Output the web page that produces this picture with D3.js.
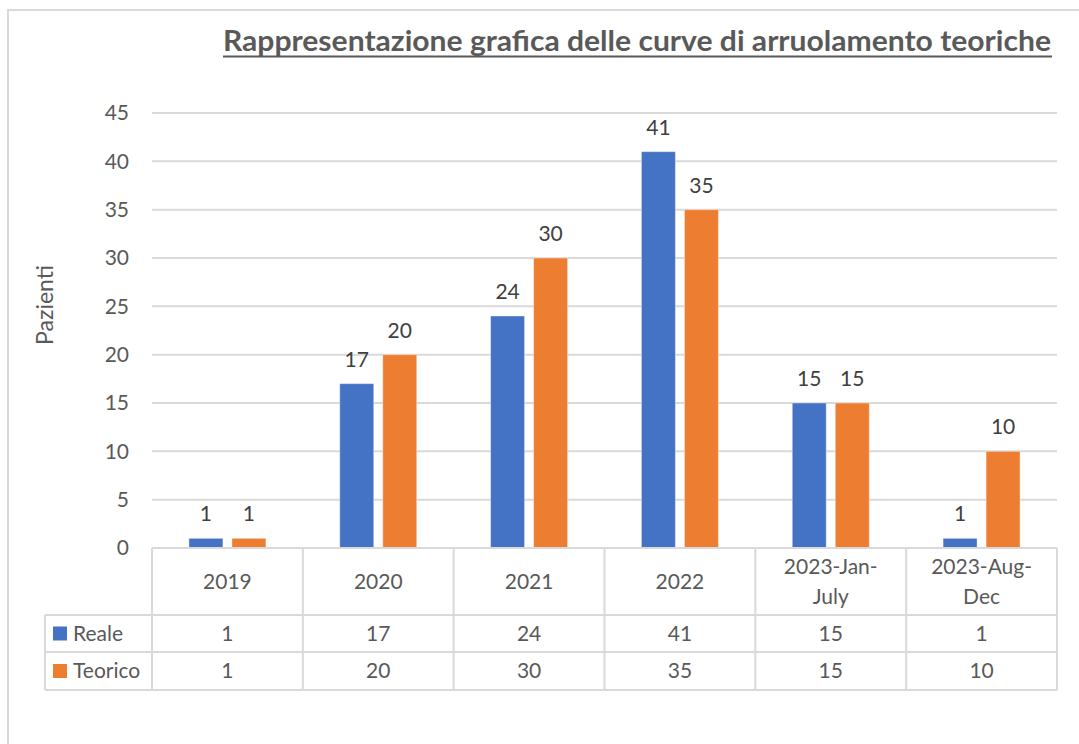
<!DOCTYPE html>
<html lang="it">
<head>
<meta charset="utf-8">
<title>Curve di arruolamento</title>
<script src="https://cdn.jsdelivr.net/npm/d3@7"></script>
<style>
body { margin: 0; background: #fff; }
text { font-family: Lato, "Noto Sans", sans-serif; fill: #595959; }
.grid line, .tbl line { stroke: #d9d9d9; stroke-width: 2px; }
</style>
</head>
<body>
<script>
// data
var categories = ["2019", "2020", "2021", "2022", "2023-Jan-July", "2023-Aug-Dec"];
var catLines = [["2019"], ["2020"], ["2021"], ["2022"], ["2023-Jan-", "July"], ["2023-Aug-", "Dec"]];
var seriesNames = ["Reale", "Teorico"];
var reale = [1, 17, 24, 41, 15, 1];
var teorico = [1, 20, 30, 35, 15, 10];
var yTicks = [0, 5, 10, 15, 20, 25, 30, 35, 40, 45];
var colors = ["#4472c4", "#ed7d31"];

var w = 1079, h = 744;
var svg = d3.select("body").append("svg")
    .attr("width", w)
    .attr("height", h);

// chart area border
svg.append("path")
    .attr("d", "M8," + (h + 5) + "V10H" + (w + 5))
    .attr("fill", "none")
    .attr("stroke", "#d9d9d9")
    .attr("stroke-width", 2);

var left = 152, right = 1057, y0 = 548, yTop = 113;
var x = d3.scaleBand().domain(categories).range([left, right]);
var y = d3.scaleLinear().domain([0, 45]).range([y0, yTop]);
var sub = d3.scaleBand().domain(seriesNames).range([0, 77]).paddingInner(0.21);
var fs = "21px";

// title
svg.append("text")
    .attr("x", 637)
    .attr("y", 51)
    .attr("text-anchor", "middle")
    .attr("textLength", 828)
    .attr("lengthAdjust", "spacingAndGlyphs")
    .style("font-size", "28px")
    .style("font-weight", "bold")
    .text("Rappresentazione grafica delle curve di arruolamento teoriche");
svg.append("line")
    .attr("x1", 223).attr("x2", 1052)
    .attr("y1", 56.5).attr("y2", 56.5)
    .attr("stroke", "#595959")
    .attr("stroke-width", 2);

// gridlines
svg.append("g").attr("class", "grid")
    .selectAll("line")
    .data(yTicks.filter(function(d){ return d > 0; }))
    .enter().append("line")
    .attr("x1", left).attr("x2", right)
    .attr("y1", function(d){ return y(d); })
    .attr("y2", function(d){ return y(d); });

// y tick labels
svg.append("g")
    .selectAll("text")
    .data(yTicks)
    .enter().append("text")
    .attr("x", 129)
    .attr("y", function(d){ return y(d); })
    .attr("dy", "0.35em")
    .attr("text-anchor", "end")
    .style("font-size", fs)
    .text(function(d){ return d; });

// axis title
svg.append("text")
    .attr("transform", "translate(53,305) rotate(-90)")
    .attr("text-anchor", "middle")
    .style("font-size", "23px")
    .text("Pazienti");

// bars
var rows = [reale, teorico];
rows.forEach(function(vals, si){
    var g = svg.append("g");
    g.selectAll("rect")
        .data(vals)
        .enter().append("rect")
        .attr("x", function(d, i){ return x(categories[i]) + x.bandwidth()/2 - 38.5 + sub(seriesNames[si]); })
        .attr("y", function(d){ return y(d); })
        .attr("width", sub.bandwidth())
        .attr("height", function(d){ return y0 - y(d); })
        .attr("fill", colors[si])
        .attr("stroke", "#fff")
        .attr("stroke-opacity", 0.4)
        .attr("stroke-width", 1);
    g.selectAll("text")
        .data(vals)
        .enter().append("text")
        .attr("x", function(d, i){ return x(categories[i]) + x.bandwidth()/2 - 38.5 + sub(seriesNames[si]) + sub.bandwidth()/2; })
        .attr("y", function(d){ return y(d) - 17; })
        .attr("text-anchor", "middle")
        .style("font-size", fs)
        .style("fill", "#404040")
        .text(function(d){ return d; });
});

// data table
var rowY = [548, 615, 652, 690];
var tbl = svg.append("g").attr("class", "tbl");
tbl.append("line").attr("x1", left).attr("x2", right).attr("y1", rowY[0]).attr("y2", rowY[0]);
rowY.slice(1).forEach(function(ry){
    tbl.append("line").attr("x1", 45).attr("x2", right).attr("y1", ry).attr("y2", ry);
});
var bounds = categories.map(function(c){ return x(c); }).concat([right]);
bounds.forEach(function(bx){
    tbl.append("line").attr("x1", bx).attr("x2", bx).attr("y1", rowY[0]).attr("y2", rowY[3]);
});
tbl.append("line").attr("x1", 45).attr("x2", 45).attr("y1", rowY[1]).attr("y2", rowY[3]);

// category labels
var catG = svg.append("g");
catLines.forEach(function(lines, i){
    var t = catG.append("text")
        .attr("x", x(categories[i]) + x.bandwidth()/2)
        .attr("text-anchor", "middle")
        .style("font-size", fs);
    var mid = (rowY[0] + rowY[1]) / 2;
    lines.forEach(function(s, j){
        t.append("tspan")
            .attr("x", x(categories[i]) + x.bandwidth()/2)
            .attr("y", mid + (j - (lines.length - 1)/2) * 30)
            .attr("dy", "0.35em")
            .text(s);
    });
});

// value rows
rows.forEach(function(vals, si){
    var cy = (rowY[si+1] + rowY[si+2]) / 2;
    svg.append("rect")
        .attr("x", 53).attr("y", cy - 7)
        .attr("width", 14).attr("height", 14)
        .attr("fill", colors[si]);
    svg.append("text")
        .attr("x", 73).attr("y", cy).attr("dy", "0.35em")
        .style("font-size", fs)
        .text(seriesNames[si]);
    svg.append("g").selectAll("text")
        .data(vals)
        .enter().append("text")
        .attr("x", function(d, i){ return x(categories[i]) + x.bandwidth()/2; })
        .attr("y", cy)
        .attr("dy", "0.35em")
        .attr("text-anchor", "middle")
        .style("font-size", fs)
        .text(function(d){ return d; });
});
</script>
</body>
</html>
